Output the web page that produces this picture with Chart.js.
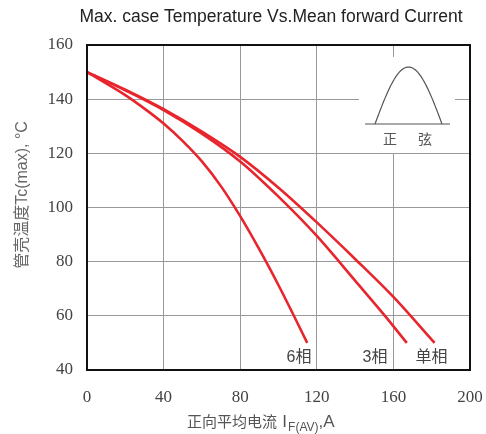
<!DOCTYPE html>
<html><head><meta charset="utf-8">
<script src="https://cdn.jsdelivr.net/npm/chart.js@4/dist/chart.umd.min.js"></script>
<style>html,body{margin:0;padding:0;background:#fff;}#wrap{width:486px;height:434px;}</style>
</head><body><div id="wrap"><canvas id="c" width="486" height="434"></canvas></div>
<script>
// Data
const xTicks = [0, 40, 80, 120, 160, 200];
const yTicks = [40, 60, 80, 100, 120, 140, 160];
const seriesNames = ['单相', '3相', '6相'];
const singleX = [0, 20, 40, 60, 80, 100, 120, 140, 160, 181.5];
const singleY = [150, 143.5, 136.3, 128, 118.7, 107.3, 94.5, 81, 67, 50];
const threeX = [0, 20, 40, 60, 80, 100, 120, 140, 155.6, 167];
const threeY = [150, 143.3, 136, 127.3, 117, 104, 89.5, 73, 60, 50];
const sixX = [0, 20, 30, 40, 50, 60, 70, 80, 90, 100, 107, 115];
const sixY = [150, 141.5, 136.5, 131, 124.5, 117, 107.8, 96.8, 84.5, 71.3, 61.5, 50];
const titleText = 'Max. case Temperature Vs.Mean forward Current';
const yTitle = '管壳温度Tc(max), °C';
const xTitleMain = '正向平均电流 ';

const pts = (xs, ys) => xs.map((x, i) => ({x, y: ys[i]}));
const RED = '#e8252d';

const deco = {
  id: 'deco',
  beforeDatasetsDraw(chart) {
    const {ctx, chartArea: a} = chart;
    ctx.save();
    ctx.fillStyle = '#fff';
    ctx.fillRect(a.right - 111, a.top + 12, 96, 96);
    ctx.restore();
  },
  afterDraw(chart) {
    const {ctx, chartArea: a, scales} = chart;
    const xs = scales.x, ys = scales.y;
    ctx.save();
    ctx.strokeStyle = '#111';
    ctx.lineWidth = 2;
    ctx.strokeRect(a.left, a.top, a.right - a.left, a.bottom - a.top);
    ctx.fillStyle = '#222';
    ctx.font = '17.5px "Liberation Sans", Arial, sans-serif';
    ctx.textAlign = 'center';
    ctx.textBaseline = 'middle';
    ctx.fillText(titleText, 271, 17);
    ctx.save();
    ctx.translate(23, 195);
    ctx.rotate(-Math.PI / 2);
    ctx.fillStyle = '#666';
    ctx.font = '16px "Liberation Sans", "Noto Sans CJK SC", sans-serif';
    ctx.textAlign = 'center';
    ctx.fillText(yTitle, 0, 0);
    ctx.restore();
    ctx.textAlign = 'left';
    ctx.textBaseline = 'alphabetic';
    ctx.fillStyle = '#555';
    ctx.font = '15px "Noto Sans CJK SC", sans-serif';
    let x0 = 187, yb = 427;
    ctx.fillText(xTitleMain, x0, yb);
    x0 += ctx.measureText(xTitleMain).width + 2;
    ctx.font = '17px "Liberation Sans", sans-serif';
    ctx.fillText('I', x0, yb); x0 += ctx.measureText('I').width + 1;
    ctx.font = '12px "Liberation Sans", sans-serif';
    ctx.fillText('F(AV)', x0, yb + 4); x0 += ctx.measureText('F(AV)').width;
    ctx.font = '17px "Liberation Sans", sans-serif';
    ctx.fillText(',A', x0, yb);
    ctx.fillStyle = '#444';
    ctx.font = '16px "Liberation Sans", "Noto Sans CJK SC", sans-serif';
    ctx.textAlign = 'center';
    ctx.textBaseline = 'middle';
    const ly = ys.getPixelForValue(44.4);
    ctx.fillText(seriesNames[2], xs.getPixelForValue(110.7), ly);
    ctx.fillText(seriesNames[1], xs.getPixelForValue(150.4), ly);
    ctx.fillText(seriesNames[0], xs.getPixelForValue(179.9), ly);
    const bx0 = a.right - 105, bx1 = a.right - 20, by = a.top + 79;
    ctx.strokeStyle = '#555';
    ctx.lineWidth = 1.2;
    ctx.beginPath();
    ctx.moveTo(bx0, by); ctx.lineTo(bx1, by); ctx.stroke();
    const hx0 = a.right - 95, hx1 = a.right - 28, h = 57;
    ctx.beginPath();
    for (let i = 0; i <= 60; i++) {
      const t = i / 60;
      const px = hx0 + (hx1 - hx0) * t;
      const py = by - h * Math.sin(Math.PI * t);
      if (i === 0) ctx.moveTo(px, py); else ctx.lineTo(px, py);
    }
    ctx.stroke();
    ctx.fillStyle = '#555';
    ctx.font = '14px "Noto Sans CJK SC", sans-serif';
    ctx.fillText('正', a.right - 80, by + 15);
    ctx.fillText('弦', a.right - 45, by + 15);
    ctx.restore();
  }
};

const ds = (label, data) => ({
  label, data, borderColor: RED, backgroundColor: RED, borderWidth: 2.6,
  pointRadius: 0, cubicInterpolationMode: 'monotone', fill: false
});

new Chart(document.getElementById('c'), {
  type: 'line',
  data: {
    datasets: [
      ds(seriesNames[0], pts(singleX, singleY)),
      ds(seriesNames[1], pts(threeX, threeY)),
      ds(seriesNames[2], pts(sixX, sixY))
    ]
  },
  options: {
    responsive: false,
    animation: false,
    layout: {padding: {left: 0, right: 16, top: 45, bottom: 0}},
    plugins: {legend: {display: false}, tooltip: {enabled: false}},
    scales: {
      x: {
        type: 'linear', min: 0, max: 200,
        afterFit: s => { s.height = 64; s.paddingLeft = 0; s.paddingRight = 0; },
        afterBuildTicks: s => { s.ticks = xTicks.map(v => ({value: v})); },
        grid: {color: '#999', lineWidth: 1, drawTicks: false},
        border: {display: false},
        ticks: {color: '#444', padding: 17, maxRotation: 0,
          font: {family: '"Liberation Serif", "DejaVu Serif", serif', size: 17}}
      },
      y: {
        type: 'linear', min: 40, max: 160,
        afterFit: s => { s.width = 87; s.paddingTop = 0; s.paddingBottom = 0; },
        afterBuildTicks: s => { s.ticks = yTicks.map(v => ({value: v})); },
        grid: {color: '#999', lineWidth: 1, drawTicks: false},
        border: {display: false},
        ticks: {color: '#444', padding: 14,
          font: {family: '"Liberation Serif", "DejaVu Serif", serif', size: 17}}
      }
    }
  },
  plugins: [deco]
});
</script>
</body></html>
